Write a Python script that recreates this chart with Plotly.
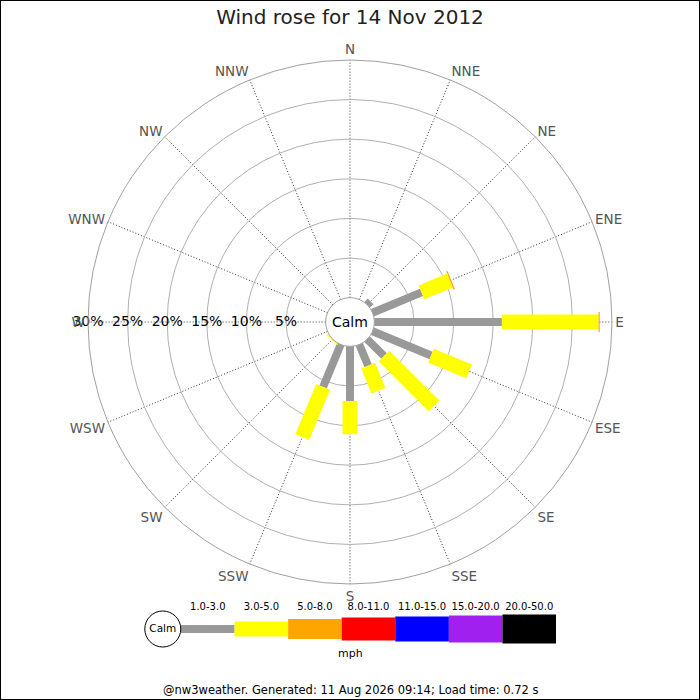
import plotly.graph_objects as go

# wind rose data for 14 Nov 2012 (percent of time per direction and speed bin)
directions = ['N', 'NNE', 'NE', 'ENE', 'E', 'ESE', 'SE', 'SSE',
              'S', 'SSW', 'SW', 'WSW', 'W', 'WNW', 'NW', 'NNW']
speed_bins = ['1.0-3.0', '3.0-5.0', '5.0-8.0', '8.0-11.0',
              '11.0-15.0', '15.0-20.0', '20.0-50.0']
bin_colors = ['#999999', '#ffff00', '#ffa500', '#ff0000',
              '#0000ff', '#a020f0', '#000000']

pct_1_3 = [0, 0, 0.6, 6.7, 16.1, 8.0, 3.0, 2.9, 6.9, 5.8, 0, 0, 0, 0, 0, 0]
pct_3_5 = [0, 0, 0, 3.9, 12.2, 5.2, 8.9, 3.4, 4.2, 6.85, 0.15, 0, 0, 0, 0, 0]
pct_5_8 = [0, 0, 0, 0.15, 0.15, 0, 0, 0, 0, 0, 0, 0, 0, 0, 0, 0]
pct_8_11 = [0] * 16
pct_11_15 = [0] * 16
pct_15_20 = [0] * 16
pct_20_50 = [0] * 16

ring_pcts = [5, 10, 15, 20, 25, 30]
ring_labels = ['5%', '10%', '15%', '20%', '25%', '30%']

all_bins = [pct_1_3, pct_3_5, pct_5_8, pct_8_11, pct_11_15, pct_15_20, pct_20_50]
bar_widths = [8, 15, 20, 23, 25, 27, 29]

FONT = 'DejaVu Sans'
angles = [i * 22.5 for i in range(len(directions))]

fig = go.Figure()

# stacked radial bars drawn as thick line segments (constant pixel width)
cum = [0] * len(directions)
for k, vals in enumerate(all_bins):
    rr, tt = [], []
    for i, v in enumerate(vals):
        if v > 0:
            rr += [cum[i], cum[i] + v, None]
            tt += [angles[i], angles[i], None]
        cum[i] += v
    if rr:
        fig.add_trace(go.Scatterpolar(
            r=rr, theta=tt, mode='lines',
            line=dict(color=bin_colors[k], width=bar_widths[k]),
            connectgaps=False, hoverinfo='skip', showlegend=False,
        ))

# percentage labels along the W spoke
fig.add_trace(go.Scatterpolar(
    r=ring_pcts, theta=[270] * len(ring_pcts), mode='text',
    text=ring_labels, textfont=dict(family=FONT, size=14, color='black'),
    hoverinfo='skip', showlegend=False,
))

# legend strip at the bottom
for k, name in enumerate(speed_bins):
    fig.add_trace(go.Scatter(
        x=[k, k + 1], y=[0, 0], mode='lines',
        line=dict(color=bin_colors[k], width=bar_widths[k]),
        xaxis='x', yaxis='y', hoverinfo='skip', showlegend=False,
    ))
fig.add_trace(go.Scatter(
    x=[k + 0.5 for k in range(len(speed_bins))], y=[22] * len(speed_bins),
    mode='text', text=speed_bins,
    textfont=dict(family=FONT, size=10, color='black'),
    xaxis='x', yaxis='y', hoverinfo='skip', showlegend=False, cliponaxis=False,
))
fig.add_trace(go.Scatter(
    x=[-0.34], y=[0], mode='markers+text', text=['Calm'],
    textposition='middle center',
    marker=dict(size=36, color='white', line=dict(color='black', width=1)),
    textfont=dict(family=FONT, size=10.5, color='black'),
    xaxis='x', yaxis='y', hoverinfo='skip', showlegend=False, cliponaxis=False,
))

fig.update_layout(
    width=700, height=700,
    margin=dict(l=0, r=0, t=0, b=0),
    paper_bgcolor='white',
    plot_bgcolor='white',
    font=dict(family=FONT),
    title=dict(text='Wind rose for 14 Nov 2012', x=0.5, xanchor='center',
               y=1 - 17 / 700, yanchor='middle',
               font=dict(family=FONT, size=20, color='#222222')),
    polar=dict(
        domain=dict(x=[88 / 700, 612 / 700], y=[116 / 700, 640 / 700]),
        bgcolor='white',
        hole=0.093,
        radialaxis=dict(range=[0, 30], tickvals=ring_pcts, showticklabels=False,
                        ticks='', showline=False, gridcolor='#b0b0b0', gridwidth=1),
        angularaxis=dict(tickmode='array', tickvals=angles, ticktext=directions,
                         direction='clockwise', rotation=90, ticks='',
                         showline=True, linecolor='#a0a0a0', linewidth=1,
                         gridcolor='#333333', griddash='1px,2px', gridwidth=1,
                         tickfont=dict(family=FONT, size=13.5, color='#555555')),
    ),
    # legend x units: one speed bin per unit, bins start at x = 0
    xaxis=dict(domain=[143.5 / 700, 556 / 700], range=[-0.7, 7], visible=False,
               fixedrange=True),
    yaxis=dict(domain=[41 / 700, 101 / 700], range=[-30, 30], visible=False,
               fixedrange=True),
    annotations=[
        dict(text='Calm', x=0.5, y=1 - 322 / 700, xref='paper', yref='paper',
             yanchor='middle', showarrow=False,
             font=dict(family=FONT, size=14, color='black')),
        dict(text='mph', x=0.5, y=1 - 653 / 700, xref='paper', yref='paper',
             yanchor='middle', showarrow=False,
             font=dict(family=FONT, size=11, color='black')),
        dict(text='@nw3weather. Generated: 11 Aug 2026 09:14; Load time: 0.72 s',
             x=0.5, y=1 - 690 / 700, xref='paper', yref='paper', yanchor='middle',
             showarrow=False, font=dict(family=FONT, size=11.5, color='black')),
    ],
    shapes=[dict(type='rect', xref='paper', yref='paper', x0=0, y0=0, x1=1, y1=1,
                 line=dict(color='black', width=2))],
)

# drop the default page margin so the figure sits at the window corner
fig.write_html('out.html', config={'displayModeBar': False},
               post_script="document.body.style.margin='0';")
